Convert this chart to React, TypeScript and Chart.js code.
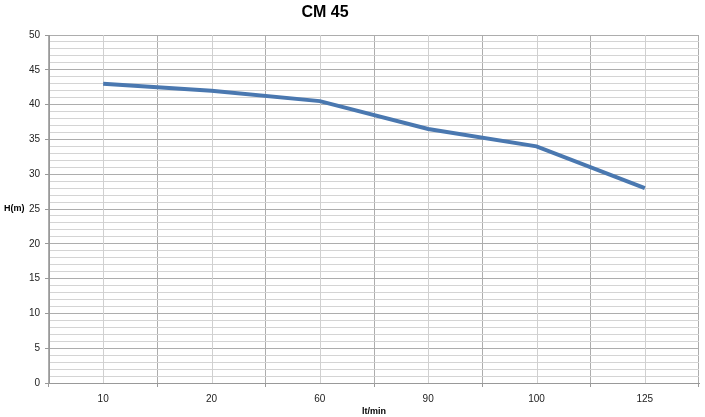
import React, { useEffect, useRef } from "react";
import { Chart, registerables } from "chart.js";

Chart.register(...registerables);

const title = "CM 45";
const categories = ["10", "20", "60", "90", "100", "125"];
const headValues = [43, 42, 40.5, 36.5, 34, 28];
const yTitle = "H(m)";
const xTitle = "lt/min";
const yMin = 0;
const yMax = 50;

const FONT = "'Liberation Sans', Arial, sans-serif";

const overlayPlugin = {
  id: "overlay",
  beforeDatasetsDraw(chart: any) {
    const { ctx, chartArea, scales } = chart;
    const xs = scales.x;
    ctx.save();
    ctx.strokeStyle = "#d0d0d0";
    ctx.lineWidth = 1;
    categories.forEach((_, i) => {
      const x = Math.round(xs.getPixelForValue(i)) + 0.5;
      ctx.beginPath();
      ctx.moveTo(x, chartArea.top);
      ctx.lineTo(x, chartArea.bottom);
      ctx.stroke();
    });
    ctx.restore();
  },
  afterDraw(chart: any) {
    const { ctx, chartArea } = chart;
    ctx.save();
    ctx.fillStyle = "#000";
    ctx.textBaseline = "middle";
    ctx.textAlign = "left";
    ctx.font = `bold 9px ${FONT}`;
    ctx.fillText(yTitle, 4, (chartArea.top + chartArea.bottom) / 2);
    ctx.textAlign = "center";
    ctx.font = `bold 16px ${FONT}`;
    ctx.fillText(title, 325, 13);
    ctx.restore();
  },
};

export default function App() {
  const ref = useRef<HTMLCanvasElement>(null);
  useEffect(() => {
    document.body.style.margin = "0";
    const chart = new Chart(ref.current!, {
      type: "line",
      data: {
        labels: categories,
        datasets: [
          {
            data: headValues,
            borderColor: "#4A78B0",
            borderWidth: 4,
            pointRadius: 0,
            tension: 0,
            fill: false,
          },
        ],
      },
      options: {
        animation: false,
        responsive: false,
        layout: { padding: { left: 0, right: 6, top: 35, bottom: 0 } },
        plugins: {
          legend: { display: false },
          title: { display: false },
          tooltip: { enabled: false },
        },
        scales: {
          x: {
            type: "category",
            offset: true,
            grid: {
              offset: true,
              color: "#adadad",
              tickColor: "#999",
              tickLength: 4,
            },
            border: { color: "#999" },
            ticks: { color: "#222", font: { family: FONT, size: 10 }, padding: 6 },
            title: {
              display: true,
              text: xTitle,
              color: "#000",
              font: { family: FONT, size: 9, weight: "bold" },
              padding: { top: 2, bottom: 0 },
            },
            afterFit(scale: any) {
              scale.height = 34;
            },
          },
          y: {
            min: yMin,
            max: yMax,
            ticks: {
              stepSize: 1,
              autoSkip: false,
              color: "#222",
              font: { family: FONT, size: 10 },
              padding: 5,
              callback: (v: any) => (Number(v) % 5 === 0 ? String(v) : ""),
            },
            grid: {
              color: (c: any) => (c.tick && c.tick.value % 5 === 0 ? "#adadad" : "#d4d4d4"),
              tickColor: (c: any) => (c.tick && c.tick.value % 5 === 0 ? "#999" : "rgba(0,0,0,0)"),
              tickLength: 4,
            },
            border: { color: "#999" },
            afterFit(scale: any) {
              scale.width = 49;
            },
          },
        },
      },
      plugins: [overlayPlugin],
    } as any);
    return () => chart.destroy();
  }, []);
  return <canvas ref={ref} width={705} height={417} />;
}
